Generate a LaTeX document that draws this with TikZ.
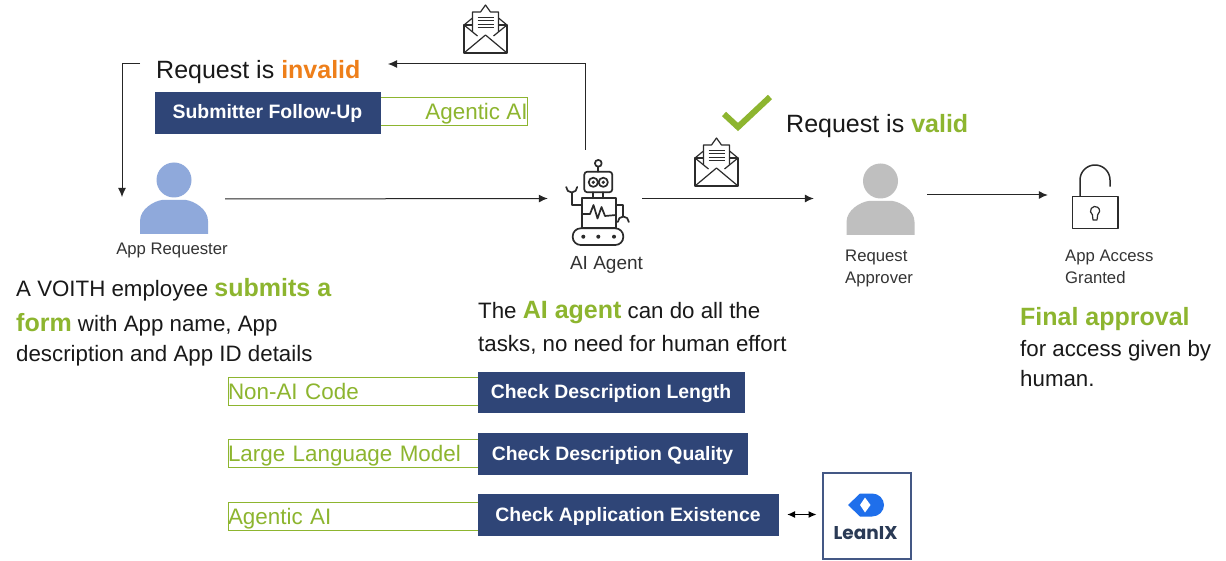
\documentclass[tikz,border=0pt]{standalone}
\usepackage{fontspec}
\setmainfont{Liberation Sans}
\newfontfamily\lixfont{Poppins}
\usetikzlibrary{arrows.meta}
\definecolor{navy}{HTML}{2F4577}
\definecolor{grn}{HTML}{8DB52F}
\definecolor{org}{HTML}{EE7F1A}
\definecolor{reqblue}{HTML}{8FA9DB}
\definecolor{appgrey}{HTML}{BFBFBF}
\definecolor{lixblue}{HTML}{1F6FEB}
\definecolor{lixtext}{HTML}{2A3A55}
\definecolor{icon}{HTML}{2B2B2B}
\newcommand{\fs}[1]{\fontsize{#1}{#1}\selectfont}
\newcommand{\grnb}[1]{\textcolor{grn}{\bfseries\fs{25}#1}}
\tikzset{
  conn/.style={draw=black!85,line width=1pt,-{Latex[length=9pt,width=8pt]}},
  icobox/.style={inner sep=0pt,minimum height=40pt},
  navybox/.style={fill=navy,draw=navy,text=white,font=\bfseries\fs{19.4},anchor=center,inner sep=0pt,text height=17pt,text depth=4pt},
  greenbox/.style={draw=grn,line width=1pt,text=grn,font=\fs{22.4},inner sep=0pt,anchor=center,text height=20pt,text depth=4pt},
  capt/.style={font=\fs{16.7},text=black!80,inner sep=0pt,anchor=base west},
  txtline/.style={anchor=base west,inner sep=0pt,font=\fs{22.3},text=black!90},
  headline/.style={anchor=base west,inner sep=0pt,font=\fs{25},text=black!90},
  iconline/.style={draw=icon,line width=1.2pt,line join=round},
  personpic/.pic={
    \fill (0,-19) circle (17.5);
    \fill (-34,35) -- (-34,22) .. controls (-34,10) and (-20,2) .. (-12,1) -- (12,1) .. controls (20,2) and (34,10) .. (34,22) -- (34,35) -- cycle;
  },
  envelopepic/.pic={
    \draw[iconline] (-13,-4) -- (-21.5,-4) -- (-21.5,24) -- (21.5,24) -- (21.5,-4) -- (13,-4);
    \draw[iconline] (-21.5,-4) -- (-13,-11) (21.5,-4) -- (13,-11);
    \draw[iconline] (-13,3) -- (-13,-17) -- (-5,-17) -- (0,-24) -- (5,-17) -- (13,-17) -- (13,3);
    \draw[iconline] (-21.5,24) -- (0,6) -- (21.5,24);
    \draw[iconline] (-21.5,-4) -- (-8,7) (21.5,-4) -- (8,7);
    \draw[iconline,line width=.9pt] (-8,-12) -- (8,-12) (-8,-8.5) -- (8,-8.5) (-8,-5) -- (8,-5) (-8,-1.5) -- (8,-1.5);
  }
}
\begin{document}
\begin{tikzpicture}[x=1pt,y=-1pt]
\useasboundingbox (0,0) rectangle (1226,561);
\fill[white] (0,0) rectangle (1226,561);

% icons: invisible named extents
\node[icobox,minimum width=102pt] (requester) at (174,199) {};
\node[icobox,minimum width=94pt] (robot) at (595,198.5) {};
\node[icobox,minimum width=113pt] (approver) at (870.5,196.5) {};
\node[icobox,minimum width=70pt] (lock) at (1083,195) {};
\coordinate (turnA) at (122,64);
\coordinate (startA) at (140,64);
\coordinate (turnB) at (585,64);
\coordinate (startB) at (585,150);
\coordinate (endB) at (388,64);

\begin{scope}[fill=reqblue]
\pic at (174,199) {personpic};
\end{scope}
\begin{scope}[fill=appgrey]
\pic at (880.5,200) {personpic};
\end{scope}
\pic at (485.5,29) {envelopepic};
\pic at (716.5,162) {envelopepic};

% robot
\begin{scope}[line width=1.7pt,line join=round,line cap=round]
\draw[draw=icon] (598.3,163.3) circle (3.4);
\draw[draw=icon] (598.3,166.7) -- (598.3,171.7);
\draw[draw=icon,rounded corners=3pt] (584.3,171.7) rectangle (612.3,192.3);
\draw[draw=icon] (593.3,182.3) circle (4.6) (603.3,182.3) circle (4.6);
\fill[icon] (593.3,182.3) circle (1.8) (603.3,182.3) circle (1.8);
\draw[draw=icon] (593.3,192.3) -- (593.3,198.3) (603.3,192.3) -- (603.3,198.3);
\draw[draw=icon] (581.7,198.3) rectangle (616,228.3);
\draw[draw=icon] (581.7,214) -- (590,214) -- (593.5,205) -- (597.5,218.5) -- (601.5,207) -- (605,216) -- (616,215);
\draw[draw=icon] (581.7,205) -- (571.7,205) -- (571.7,192.5);
\draw[draw=icon] (566.2,187) arc[start angle=180,end angle=0,radius=5.5];
\draw[draw=icon] (616,205) -- (623.3,205) -- (623.3,216.7);
\draw[draw=icon] (617.8,222) arc[start angle=180,end angle=360,radius=5.5];
\draw[draw=icon,rounded corners=8pt] (572.7,228.3) rectangle (623.3,245);
\fill[icon] (583.3,236.7) circle (2) (598.3,236.7) circle (2) (614,236.7) circle (2);
\end{scope}

% lock
\draw[iconline,line width=1.5pt] (1072.3,196.7) -- (1118,196.7) -- (1118,228.3) -- (1072.3,228.3) -- cycle;
\draw[iconline,line width=1.5pt] (1080,196.7) -- (1080,180) arc[start angle=180,end angle=360,radius=15] -- (1110,186.7);
\draw[iconline] (1092.4,214.8) arc[start angle=125,end angle=415,radius=4.6] -- (1097,220) -- (1093,220) -- cycle;

% check mark
\draw[grn,line width=6pt] (724,114) -- (738,127) -- (770,97);

% top texts
\node[headline] (invalid) at (156,79) {Request is \textcolor{org}{\bfseries invalid}};
\node[headline] (valid) at (786,133) {Request is \textcolor{grn}{\bfseries valid}};

% boxes
\node[greenbox,minimum width=147pt,minimum height=28pt] (ga) at (453.5,112) {\hspace*{46pt}Agentic AI};
\node[navybox,minimum width=225pt,minimum height=41pt] (sf) at (267.5,112.5) {Submitter Follow-Up};

\node[greenbox,minimum width=250pt,minimum height=28pt,text width=250pt,align=left] (g1) at (353,391) {Non-AI Code};
\node[navybox,minimum width=266pt,minimum height=40pt] (c1) at (611,392) {Check Description Length};
\node[greenbox,minimum width=250pt,minimum height=28pt,text width=250pt,align=left] (g2) at (353,453) {Large Language Model};
\node[navybox,minimum width=269pt,minimum height=41pt] (c2) at (612.5,453.5) {Check Description Quality};
\node[greenbox,minimum width=250pt,minimum height=28pt,text width=250pt,align=left] (g3) at (353,516) {Agentic AI};
\node[navybox,minimum width=300pt,minimum height=41pt] (c3) at (628,514.5) {Check Application Existence};

% LeanIX
\node[draw=navy!90,line width=2pt,fill=white,minimum width=88pt,minimum height=86pt,inner sep=0pt] (lix) at (866.5,515.5) {};
\fill[lixblue] (848,505) -- (860,493.5) -- (872,493.5) .. controls (879,493.5) and (884,499) .. (884,505) .. controls (884,511) and (879,516.5) .. (872,516.5) -- (860,516.5) -- cycle;
\fill[white] (865,497.5) -- (870.5,505) -- (865,512.5) -- (860,505) -- cycle;
\node[anchor=center,inner sep=0pt,font=\lixfont\bfseries\fs{18.5},text=lixtext] (lixt) at (865.5,533) {LeanIX};

% captions
\node[capt,anchor=center] (t1) at (172,250) {App Requester};
\node[capt,anchor=center,font=\fs{19}] (t2) at (606.5,265) {AI Agent};
\node[capt] (t3a) at (845,262) {Request};
\node[capt] (t3b) at (845,284) {Approver};
\node[capt] (t4a) at (1065,262) {App Access};
\node[capt] (t4b) at (1065,284) {Granted};

% paragraphs
\node[txtline] (p1) at (16,297) {A VOITH employee \grnb{submits a}};
\node[txtline] (p2) at (16,331) {\grnb{form} with App name, App};
\node[txtline] (p3) at (16,361) {description and App ID details};
\node[txtline] (m1) at (478,319) {The \grnb{AI agent} can do all the};
\node[txtline] (m2) at (478,351) {tasks, no need for human effort};
\node[txtline] (r1) at (1020,325) {\grnb{Final approval}};
\node[txtline] (r2) at (1020,356) {for access given by};
\node[txtline] (r3) at (1020,386) {human.};

% connectors
\draw[conn,shorten >=2pt] (startA) -- (turnA) -- (turnA |- requester.center);
\draw[conn] (requester.east) -- (robot.west);
\draw[conn] (startB) -- (turnB) -- (endB);
\draw[conn] (robot.east) -- (approver.west |- robot.east);
\draw[conn] (approver.east |- lock.west) -- (lock.west);
\draw[draw=black,line width=1pt,{Latex[length=8pt,width=7pt]}-{Latex[length=8pt,width=7pt]}] ([xshift=9pt]c3.east) -- ([xshift=-5pt]lix.west |- c3.east);
\end{tikzpicture}
\end{document}
